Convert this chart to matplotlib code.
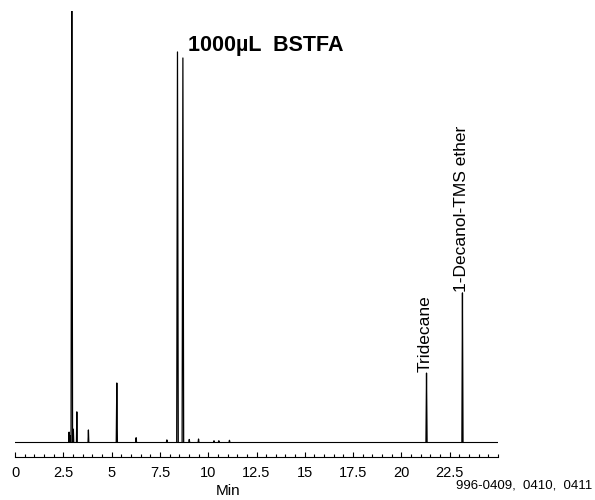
import matplotlib.pyplot as plt
from matplotlib.ticker import MultipleLocator

plt.rcParams['font.family'] = ['Liberation Sans', 'DejaVu Sans']

# peak table (retention time in min, relative height)
rt = [2.80, 2.86, 2.94, 3.02, 3.20, 3.80, 5.27, 6.27, 7.86, 8.41, 8.69,
      9.02, 9.50, 10.30, 10.55, 11.10, 21.30, 23.16]
height = [2.3, 1.5, 115, 3.0, 7.0, 2.8, 13.7, 1.0, 0.5, 90.5, 89.1,
          0.6, 0.7, 0.3, 0.3, 0.4, 16.0, 34.6]
width = [0.02, 0.02, 0.04, 0.02, 0.02, 0.02, 0.03, 0.02, 0.02, 0.04, 0.04,
         0.02, 0.02, 0.02, 0.02, 0.02, 0.03, 0.03]

labels = {'Tridecane': (21.30, 16.0), '1-Decanol-TMS ether': (23.16, 34.6)}
xticks = [0, 2.5, 5, 7.5, 10, 12.5, 15, 17.5, 20, 22.5]

fig = plt.figure(figsize=(5.95, 5.0), dpi=100)
ax = fig.add_axes([15 / 595, 0.1116, (498 - 15) / 595, 0.978 - 0.1116])

# baseline
ax.plot([0, 25], [0, 0], color='black', lw=0.8)
for t, h, w in zip(rt, height, width):
    ax.plot([t - w, t, t + w], [0, h, 0], color='black', lw=0.9)

for name, (t, h) in labels.items():
    ax.text(t - 0.05, h + 0.3, name, rotation=90, ha='center', va='bottom', fontsize=12.5)

ax.set_xlim(0, 25)
ax.set_ylim(-0.5, 100)
for s in ['top', 'right', 'left']:
    ax.spines[s].set_visible(False)
ax.spines['bottom'].set_position(('outward', 9.2))
ax.spines['bottom'].set_linewidth(0.8)
ax.set_yticks([])
ax.set_xticks(xticks)
ax.set_xticklabels([f'{v:g}' for v in xticks], fontsize=10.5)
ax.xaxis.set_minor_locator(MultipleLocator(0.5))
ax.tick_params(axis='x', which='major', direction='in', length=3.5, width=0.8, pad=6.5)
ax.tick_params(axis='x', which='minor', direction='in', length=2.5, width=0.8)
ax.set_xlabel('Min', fontsize=11)
ax.xaxis.set_label_coords((228 - 15) / 483, -0.093)

fig.text(188 / 595, 1 - 46 / 500, '1000µL  BSTFA', fontsize=15.5, fontweight='bold', va='center')
fig.text(592 / 595, 1 - 485 / 500, '996-0409,  0410,  0411', fontsize=9.5, ha='right', va='center')

fig.savefig('out.png', dpi=100)
